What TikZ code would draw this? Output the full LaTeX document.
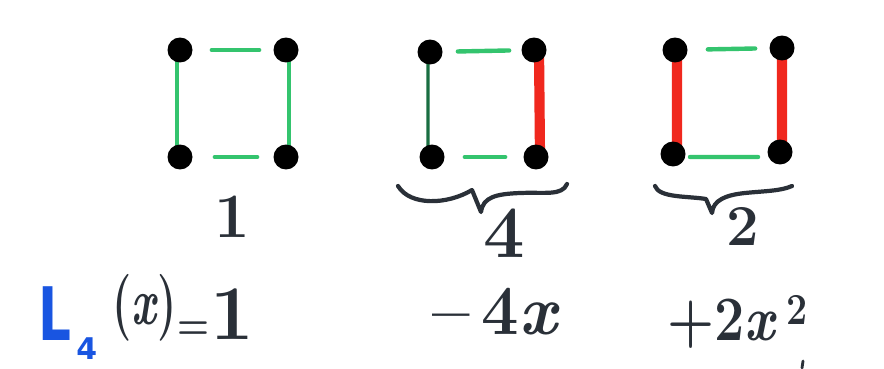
\documentclass[tikz,border=0pt]{standalone}
\usepackage{fontspec}
\usepackage{graphicx}
\usetikzlibrary{backgrounds}
\newfontfamily\handsans{DejaVu Sans}
\definecolor{edgegreen}{RGB}{52,196,110}
\definecolor{darkgreen}{RGB}{25,110,65}
\definecolor{edgered}{RGB}{240,40,30}
\definecolor{inkc}{RGB}{42,48,56}
\definecolor{penblue}{RGB}{25,85,225}
\begin{document}
\begin{tikzpicture}[x=0.02cm,y=-0.02cm,
  dot/.style={circle,fill=black,draw=none,inner sep=0pt,minimum size=0.5cm},
  gedge/.style={draw=edgegreen,line width=2.5pt,line cap=round},
  redge/.style={draw=edgered,line width=5.8pt,line cap=round},
  dgedge/.style={draw=darkgreen,line width=1.8pt,line cap=round},
  bracestroke/.style={draw=inkc,line width=2.4pt,line cap=round,line join=round},
  ink/.style={text=inkc,inner sep=0pt,outer sep=0pt}]
\useasboundingbox (0,0) rectangle (884,368);

% square 1
\node[dot] (a1) at (180,50) {};
\node[dot] (b1) at (286,50) {};
\node[dot] (c1) at (180,157) {};
\node[dot] (d1) at (286,157) {};
% square 2
\node[dot] (a2) at (430,52) {};
\node[dot] (b2) at (534,50) {};
\node[dot] (c2) at (432,157) {};
\node[dot] (d2) at (536,157) {};
% square 3
\node[dot] (a3) at (675,50) {};
\node[dot] (b3) at (782,48) {};
\node[dot] (c3) at (673,154) {};
\node[dot] (d3) at (780,152) {};

\begin{pgfonlayer}{background}
  \fill[white] (0,0) rectangle (884,368);
  % square 1
  \draw[gedge,shorten <=0.38cm,shorten >=0.28cm] (a1) -- (b1);
  \draw[gedge] ([xshift=-0.06cm]a1.center) -- ([xshift=-0.06cm]c1.center);
  \draw[gedge] ([xshift=0.06cm]b1.center) -- ([xshift=0.06cm]d1.center);
  \draw[gedge,shorten <=0.44cm,shorten >=0.32cm] (c1) -- (d1);
  % square 2
  \draw[gedge,shorten <=0.3cm,shorten >=0.24cm] (a2) -- (b2);
  \draw[dgedge] ([xshift=-0.04cm]a2.center) -- ([xshift=-0.08cm]c2.center);
  \draw[redge] ([xshift=0.1cm]b2.center) -- ([xshift=0.08cm]d2.center);
  \draw[gedge,shorten <=0.4cm,shorten >=0.36cm] (c2) -- (d2);
  % square 3
  \draw[gedge,shorten <=0.4cm,shorten >=0.28cm] (a3) -- (b3);
  \draw[redge] ([xshift=0.04cm]a3.center) -- ([xshift=0.08cm]c3.center);
  \draw[redge] (b3.center) -- ([xshift=0.04cm]d3.center);
  \draw[gedge,shorten <=0.34cm,shorten >=0.44cm] ([yshift=-0.06cm]c3.center) -- ([yshift=-0.1cm]d3.center);
\end{pgfonlayer}

% braces
\draw[bracestroke] (398,186) .. controls (410,206) and (447,205) .. (472,190)
  -- (481,212) .. controls (483,197) and (496,194) .. (520,193)
  .. controls (545,192) and (562,196) .. (567,184);
\draw[bracestroke] (655,186) .. controls (659,198) and (688,196) .. (706,199)
  -- (712,213) .. controls (713,200) and (726,195) .. (745,193)
  .. controls (765,191) and (781,191) .. (792,186);

% counts
\node[ink,font=\bfseries\fontsize{36}{38}\selectfont] (n1) at (232,217) {1};
\node[ink,font=\bfseries\fontsize{42}{44}\selectfont] (n4) at (504,233) {4};
\node[ink,font=\bfseries\fontsize{33}{35}\selectfont] (n2) at (743,226) {2};

% polynomial
\node[inner sep=0pt,anchor=base west,text=penblue,font=\handsans\bfseries\fontsize{42}{44}\selectfont] (L) at (38,340) {\scalebox{0.7}[1]{L}};
\node[inner sep=0pt,anchor=base west,text=penblue,font=\handsans\bfseries\fontsize{17}{19}\selectfont] (L4) at (76,359) {4};
\node[ink,anchor=base west,font=\bfseries\fontsize{38}{40}\selectfont] (px) at (112,324) {\scalebox{0.66}[1]{(\textit{x})}};
\node[ink,font=\bfseries\fontsize{26}{28}\selectfont] (eq) at (193,331) {\scalebox{0.8}[1]{=}};
\node[ink,anchor=base,font=\bfseries\fontsize{44}{46}\selectfont] (one) at (232,339) {1};
\node[ink,anchor=base,font=\bfseries\fontsize{40}{42}\selectfont] (t2) at (496,334) {\scalebox{0.95}[1]{–\,4\textit{x}}};
\node[ink,anchor=base,font=\bfseries\fontsize{36}{38}\selectfont] (t3) at (738,340) {\scalebox{0.85}[1]{+2\textit{x}\,\textsuperscript{2}}};

% stray pen mark
\draw[inkc,line width=1.6pt,line cap=round] (803,361) -- (802,368);
\end{tikzpicture}
\end{document}
